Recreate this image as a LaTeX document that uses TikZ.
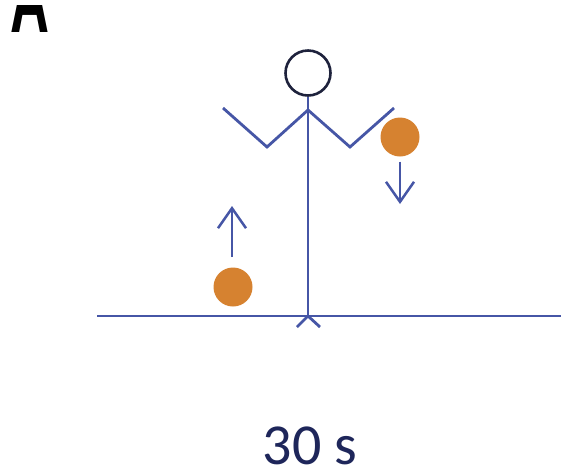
\documentclass[tikz,border=0pt]{standalone}
\usepackage{fontspec}
\setmainfont{Carlito}
\newfontfamily\labelfont{Liberation Sans}
\usetikzlibrary{arrows.meta}
\definecolor{stick}{RGB}{70,86,166}
\definecolor{headline}{RGB}{30,34,60}
\definecolor{ballfill}{RGB}{214,130,48}
\definecolor{caption}{RGB}{30,38,90}
\tikzset{
  limb/.style={draw=stick, line width=2.8pt, line cap=butt, line join=miter},
  ball/.style={circle, fill=ballfill, draw=none, minimum size=39pt, inner sep=0pt},
  motion/.style={draw=stick, line width=2.5pt, -{Straight Barb[length=20pt, width=28pt, line width=2.5pt]}},
}
\begin{document}
\begin{tikzpicture}[x=1pt, y=-1pt]
  \useasboundingbox (0,0) rectangle (561,475);
  \fill[white] (0,0) rectangle (561,475);

  % panel letter, only its lower part shows below the top margin
  \begin{scope}
    \clip (0,5) rectangle (561,475);
    \node[anchor=base, inner sep=0pt, yscale=1.8, font=\labelfont\bfseries\fontsize{54}{54}\selectfont] (panel) at (30,32) {A};
  \end{scope}

  % ground
  \coordinate (groundL) at (97,316);
  \coordinate (groundR) at (561,316);
  \draw[limb] (groundL) -- (groundR);

  % stick figure
  \node[circle, draw=headline, line width=2.6pt, minimum size=45pt, inner sep=0pt] (head) at (308,73) {};
  \coordinate (neck) at (308,110);
  \coordinate (feet) at (308,316);
  \coordinate (footL) at (297,327);
  \coordinate (footR) at (320,327);
  \coordinate (elbowL) at (267,147);
  \coordinate (handL) at (223,108);
  \coordinate (elbowR) at (350,147);
  \coordinate (handR) at (394,108);
  \draw[limb] (head.south) -- (feet);
  \draw[limb] (footL) -- (feet) -- (footR);
  \draw[limb] (neck) -- (elbowL) -- (handL);
  \draw[limb] (neck) -- (elbowR) -- (handR);

  % balls and their motion
  \node[ball] (ballR) at (400,137) {};
  \node[ball] (ballL) at (233,287) {};
  \coordinate (downEnd) at (400,204);
  \coordinate (upStart) at (232,257);
  \coordinate (upEnd) at (232,206);
  \draw[motion] (ballR.south) ++(0,5) coordinate (downStart) (downStart) -- (downEnd);
  \draw[motion] (upStart) -- (upEnd);

  % duration
  \node[anchor=base, text=caption, inner sep=0pt, font=\fontsize{58}{58}\selectfont] (time) at (310,464) {30 s};
\end{tikzpicture}
\end{document}
